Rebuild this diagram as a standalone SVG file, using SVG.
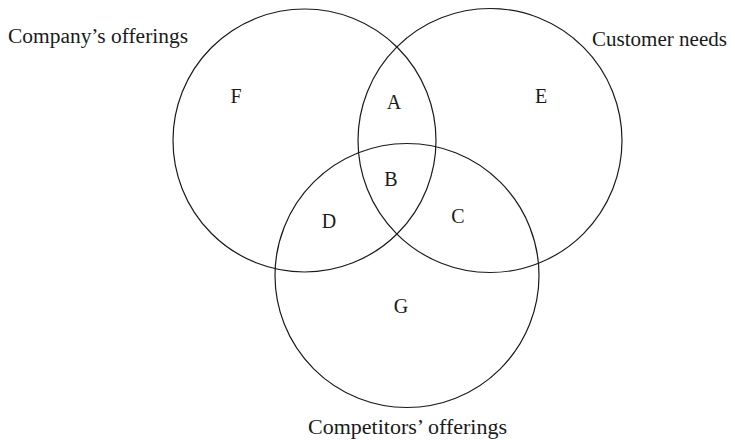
<svg xmlns="http://www.w3.org/2000/svg" width="735" height="440" viewBox="0 0 735 440">
  <style>
    .set { fill: none; stroke: #1a1a1a; stroke-width: 1.2; }
    .lbl { font-family: "Liberation Serif", "Times New Roman", serif; font-size: 20px; fill: #1a1a1a; }
    .rgn { font-family: "Liberation Serif", "Times New Roman", serif; font-size: 20px; fill: #1a1a1a; text-anchor: middle; }
  </style>
  <rect width="735" height="440" fill="#ffffff"/>

  <!-- three overlapping sets -->
  <g id="company">
    <circle class="set" cx="304.5" cy="140.5" r="131.5"/>
    <text class="lbl" x="8" y="43" textLength="180" lengthAdjust="spacingAndGlyphs">Company’s offerings</text>
  </g>
  <g id="customer">
    <circle class="set" cx="490" cy="140.5" r="132"/>
    <text class="lbl" x="592" y="46" textLength="135" lengthAdjust="spacingAndGlyphs">Customer needs</text>
  </g>
  <g id="competitors">
    <circle class="set" cx="407" cy="275.5" r="132"/>
    <text class="lbl" x="308" y="434" textLength="199" lengthAdjust="spacingAndGlyphs">Competitors’ offerings</text>
  </g>

  <!-- region letters -->
  <g id="regions">
    <text class="rgn" x="236" y="103">F</text>
    <text class="rgn" x="394" y="109">A</text>
    <text class="rgn" x="541" y="103">E</text>
    <text class="rgn" x="391" y="186">B</text>
    <text class="rgn" x="329" y="228">D</text>
    <text class="rgn" x="458" y="223">C</text>
    <text class="rgn" x="401" y="313">G</text>
  </g>
</svg>
